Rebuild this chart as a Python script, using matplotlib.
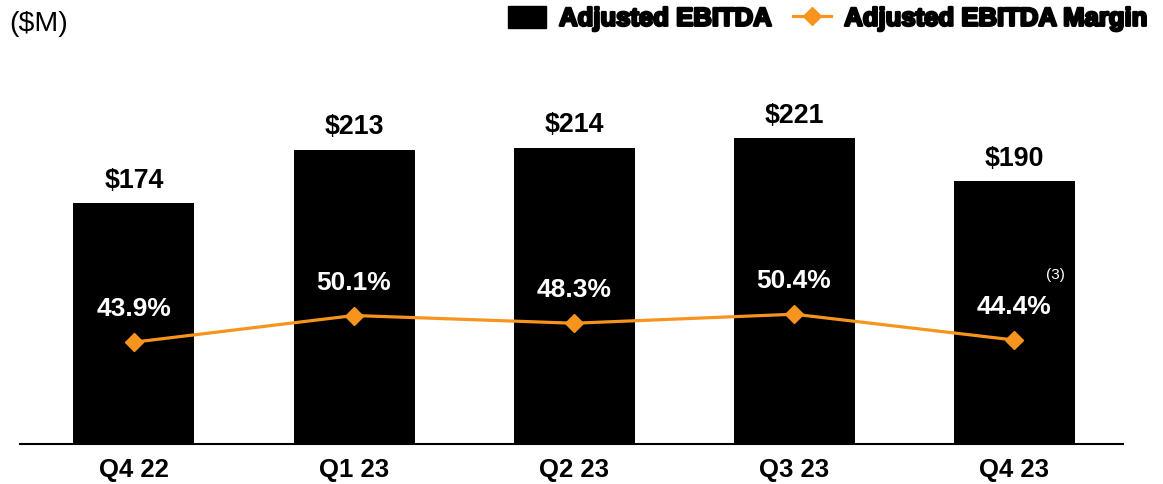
import matplotlib.pyplot as plt
import matplotlib.patheffects as pe
from matplotlib.lines import Line2D
from matplotlib.patches import Patch

plt.rcParams['font.family'] = ['Liberation Sans', 'DejaVu Sans']

quarters = ['Q4 22', 'Q1 23', 'Q2 23', 'Q3 23', 'Q4 23']
ebitda = [174, 213, 214, 221, 190]
margin = [43.9, 50.1, 48.3, 50.4, 44.4]

orange = '#F7941D'

fig = plt.figure(figsize=(11.63, 4.84), dpi=100)
ax = fig.add_axes([0.0, 0.0826, 1.0, 0.857])
x = range(len(quarters))
ax.bar(x, ebitda, width=0.55, color='black', zorder=2)
ax.set_xlim(-0.609, 4.677)
ax.set_ylim(0, 300)

for i, v in enumerate(ebitda):
    ax.annotate(f'${v}', (i, v), xytext=(0, 7), textcoords='offset points',
                ha='center', va='bottom', fontsize=19.3, fontweight='bold')

ax.set_xticks(list(x))
ax.set_xticklabels(quarters, fontsize=18.5, fontweight='bold')
ax.tick_params(axis='x', length=0, pad=10)
ax.set_yticks([])
for s in ['top', 'right', 'left']:
    ax.spines[s].set_visible(False)
ax.spines['bottom'].set_bounds(-0.518, 4.495)
ax.spines['bottom'].set_linewidth(1.5)

ax2 = ax.twinx()
ax2.set_ylim(20.2, 116.7)
ax2.plot(list(x), margin, color=orange, lw=2.3, marker='D', markersize=9, zorder=3)
for i, v in enumerate(margin):
    ax2.annotate(f'{v:.1f}%', (i, v), xytext=(0, 15), textcoords='offset points',
                 ha='center', va='bottom', fontsize=19, fontweight='bold', color='white')
ax2.annotate('(3)', (4, margin[-1]), xytext=(30, 47), textcoords='offset points',
             ha='center', va='center', fontsize=11, color='white')
ax2.set_yticks([])
for s in ['top', 'right', 'left', 'bottom']:
    ax2.spines[s].set_visible(False)

fig.text(0.008, 0.95, '($M)', fontsize=20.5, va='center', ha='left')

handles = [Patch(color='black'),
           Line2D([0], [0], color=orange, lw=2.3, marker='D', markersize=9)]
leg = fig.legend(handles, ['Adjusted EBITDA', 'Adjusted EBITDA Margin'],
                 loc='upper right', bbox_to_anchor=(1.007, 1.035), ncol=2, frameon=False,
                 prop={'weight': 'bold', 'size': 18.5}, handlelength=1.5,
                 handleheight=0.9, handletextpad=0.5, columnspacing=0.8)
for t in leg.get_texts():
    t.set_path_effects([pe.withStroke(linewidth=1.8, foreground='black')])

fig.savefig('out.png', dpi=100)
